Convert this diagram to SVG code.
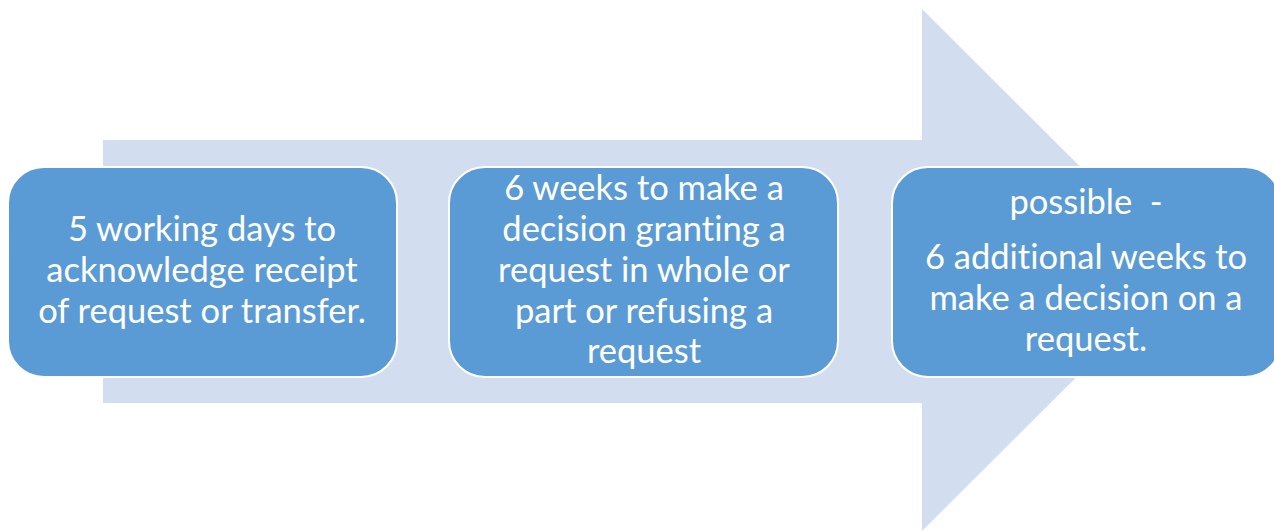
<svg xmlns="http://www.w3.org/2000/svg" width="1274" height="531" viewBox="0 0 1274 531">
<style>
.bg{fill:#D2DEEF}
.box{fill:#5B9BD5;stroke:#FFFFFF;stroke-width:2}
.t{font-family:Lato,"Open Sans","Liberation Sans",sans-serif;font-size:34.5px;fill:#FFFFFF;text-anchor:middle;font-variant-ligatures:none;font-feature-settings:"liga" 0,"dlig" 0}
</style>
<rect width="1274" height="531" fill="#FFFFFF"/>
<g id="arrow">
<polygon class="bg" points="103,140 922,140 922,9 1184,270 922,531 922,403 103,403"/>
</g>
<g id="connectors"></g>
<g id="node1">
<rect class="box" x="8" y="167" width="389" height="210" rx="36"/>
<text class="t"><tspan x="202" y="241">5 working days to</tspan><tspan x="202" y="282">acknowledge receipt</tspan><tspan x="202" y="323">of request or transfer.</tspan></text>
</g>
<g id="node2">
<rect class="box" x="449" y="167" width="389" height="210" rx="36"/>
<text class="t"><tspan x="644" y="200">6 weeks to make a</tspan><tspan x="644" y="241">decision granting a</tspan><tspan x="644" y="282">request in whole or</tspan><tspan x="644" y="323">part or refusing a</tspan><tspan x="644" y="363">request</tspan></text>
</g>
<g id="node3">
<rect class="box" x="892" y="167" width="389" height="210" rx="36"/>
<text class="t"><tspan x="1086" y="214">possible&#160; -</tspan><tspan x="1086" y="269">6 additional weeks to</tspan><tspan x="1086" y="310">make a decision on a</tspan><tspan x="1086" y="351">request.</tspan></text>
</g>
</svg>
